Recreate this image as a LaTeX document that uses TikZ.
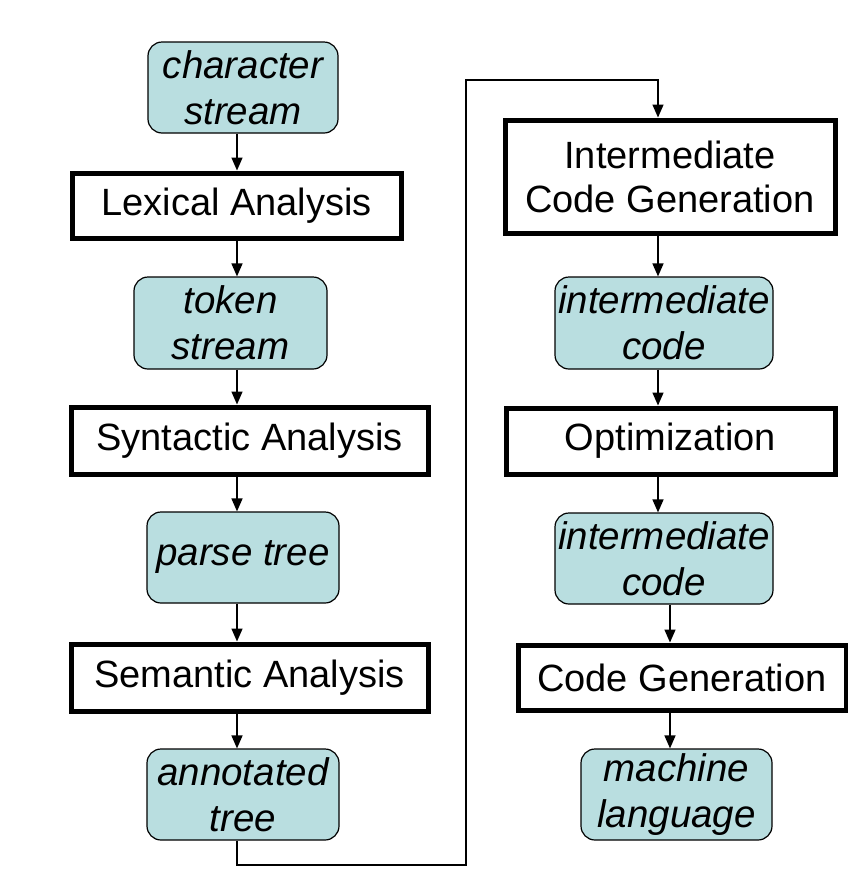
\documentclass[tikz,border=0pt]{standalone}
\usepackage{fontspec}
\setmainfont{Liberation Sans}
\usetikzlibrary{arrows.meta}
\definecolor{streamfill}{RGB}{185,222,224}

\begin{document}
\begin{tikzpicture}[x=1pt,y=-1pt,
    phase/.style={draw,shape=rectangle,line width=5pt,inner sep=0pt,align=center,
      font=\fontsize{38}{44}\selectfont},
    data/.style={draw,shape=rectangle,line width=1.2pt,rounded corners=14pt,
      fill=streamfill,inner sep=0pt,align=center,
      font=\fontsize{38.5}{46}\selectfont\itshape},
    flow/.style={line width=1.5pt,-{Triangle[length=13pt,width=11pt]}}]

  \useasboundingbox (0,0) rectangle (848,884);

  % front end
  \node[data,minimum width=190pt,minimum height=91pt] (cs) at (243,87.5) {character\\stream};
  \node[phase,minimum width=329pt,minimum height=65pt] (lex) at (236.5,205.5) {Lexical Analysis};
  \node[data,minimum width=193pt,minimum height=92pt] (ts) at (230.5,323) {token\\stream};
  \node[phase,minimum width=357pt,minimum height=67pt] (syn) at (249.5,440.5) {Syntactic Analysis};
  \node[data,minimum width=192pt,minimum height=91pt] (pt) at (243,557.5) {parse tree};
  \node[phase,minimum width=357pt,minimum height=67pt] (sem) at (249.5,677.5) {Semantic Analysis};
  \node[data,minimum width=192pt,minimum height=91pt] (at) at (243,794.5) {annotated\\tree};

  % back end
  \node[phase,minimum width=330pt,minimum height=113pt] (icg) at (670,176.5) {Intermediate\\Code Generation};
  \node[data,minimum width=218pt,minimum height=92pt] (ic1) at (664,323) {intermediate\\code};
  \node[phase,minimum width=329pt,minimum height=66pt] (opt) at (670.5,441) {Optimization};
  \node[data,minimum width=218pt,minimum height=91pt] (ic2) at (664,558.5) {intermediate\\code};
  \node[phase,minimum width=328pt,minimum height=65pt] (cg) at (682,677.5) {Code Generation};
  \node[data,minimum width=191pt,minimum height=91pt] (ml) at (676.5,794.5) {machine\\language};

  \coordinate (lx) at (237,0);
  \coordinate (rx) at (658,0);
  \coordinate (gx) at (670,0);
  \coordinate (bl) at (237,865);
  \coordinate (br) at (466,865);
  \coordinate (tr) at (466,80);
  \coordinate (tl) at (658,80);

  \draw[flow] (cs.south -| lx) -- (lex.north -| lx);
  \draw[flow] (lex.south -| lx) -- (ts.north -| lx);
  \draw[flow] (ts.south -| lx) -- (syn.north -| lx);
  \draw[flow] (syn.south -| lx) -- (pt.north -| lx);
  \draw[flow] (pt.south -| lx) -- (sem.north -| lx);
  \draw[flow] (sem.south -| lx) -- (at.north -| lx);

  \draw[flow] (at.south -| bl) -- (bl) -- (br) -- (tr) -- (tl) -- (icg.north -| tl);

  \draw[flow] (icg.south -| rx) -- (ic1.north -| rx);
  \draw[flow] (ic1.south -| rx) -- (opt.north -| rx);
  \draw[flow] (opt.south -| rx) -- (ic2.north -| rx);
  \draw[flow] (ic2.south -| gx) -- (cg.north -| gx);
  \draw[flow] (cg.south -| gx) -- (ml.north -| gx);

\end{tikzpicture}
\end{document}
